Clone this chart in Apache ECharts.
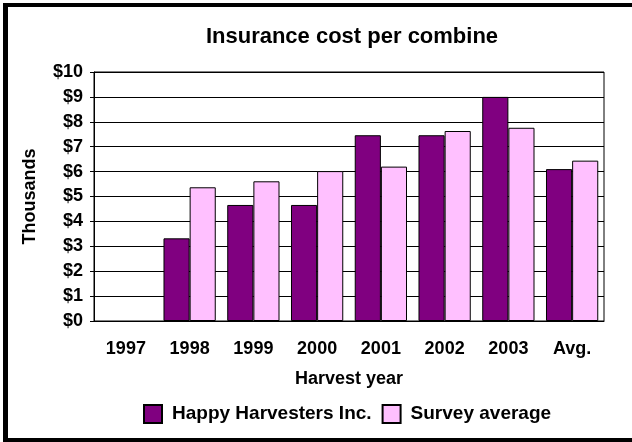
<!DOCTYPE html>
<html>
<head>
<meta charset="utf-8">
<script src="https://cdn.jsdelivr.net/npm/echarts@6/dist/echarts.min.js"></script>
<style>
  html, body { margin: 0; padding: 0; background: #fff; }
  #wrap { position: relative; width: 632px; height: 442px; overflow: hidden; }
  #frame {
    position: absolute; left: 3px; top: 3px; width: 640px; height: 431px;
    border-left: 5px solid #000; border-top: 4px solid #000; border-bottom: 4px solid #000;
    box-sizing: content-box;
  }
  #chart { position: absolute; left: 0; top: 0; width: 632px; height: 442px; }
</style>
</head>
<body>
<div id="wrap">
  <div id="frame"></div>
  <div id="chart"></div>
</div>
<script>
// harvest years on the x axis
const years = ['1997', '1998', '1999', '2000', '2001', '2002', '2003', 'Avg.'];
// insurance cost per combine, thousands of dollars (no 1997 figures)
const happyHarvesters = ['-', 3.32, 4.66, 4.66, 7.46, 7.46, 9.0, 6.1];
const surveyAverage = ['-', 5.37, 5.61, 6.02, 6.2, 7.63, 7.76, 6.44];

const FONT = '"Liberation Sans", Arial, sans-serif';

const chart = echarts.init(document.getElementById('chart'));

chart.setOption({
  animation: false,
  backgroundColor: 'transparent',
  textStyle: { fontFamily: FONT, color: '#000', fontWeight: 'bold' },
  title: {
    text: 'Insurance cost per combine',
    left: 347,
    top: 21,
    textAlign: 'center',
    textStyle: { fontFamily: FONT, fontSize: 22, fontWeight: 'bold', color: '#000' }
  },
  legend: {
    data: ['Happy Harvesters Inc.', 'Survey average'],
    left: 143,
    top: 404,
    itemWidth: 18,
    itemHeight: 18,
    itemGap: 10,
    icon: 'rect',
    padding: 0,
    textStyle: { fontFamily: FONT, fontSize: 19, fontWeight: 'bold', color: '#000', padding: [0, 0, 0, 5] }
  },
  grid: {
    left: 94, right: 28, top: 72, bottom: 121,
    show: true, borderColor: '#000', borderWidth: 1,
    containLabel: false
  },
  xAxis: {
    type: 'category',
    data: years,
    name: 'Harvest year',
    nameLocation: 'middle',
    nameGap: 49,
    nameTextStyle: { fontFamily: FONT, fontSize: 18, fontWeight: 'bold', color: '#000' },
    axisLine: { lineStyle: { color: '#000', width: 1 } },
    axisTick: { show: false },
    axisLabel: { fontFamily: FONT, fontSize: 18, fontWeight: 'bold', color: '#000', margin: 19 }
  },
  yAxis: {
    type: 'value',
    min: 0, max: 10, interval: 1,
    name: 'Thousands',
    nameLocation: 'middle',
    nameGap: 55,
    nameRotate: 90,
    nameTextStyle: { fontFamily: FONT, fontSize: 18, fontWeight: 'bold', color: '#000' },
    axisLine: { show: true, lineStyle: { color: '#000', width: 1 } },
    axisTick: { show: true, length: 4, lineStyle: { color: '#000' } },
    axisLabel: {
      fontFamily: FONT, fontSize: 18, fontWeight: 'bold', color: '#000', margin: 11,
      formatter: v => '$' + v
    },
    splitLine: { show: true, lineStyle: { color: '#000', width: 1 } }
  },
  series: [
    {
      name: 'Happy Harvesters Inc.',
      type: 'bar',
      data: happyHarvesters,
      barGap: '0%',
      barCategoryGap: '18%',
      itemStyle: { color: '#800080', borderColor: '#000', borderWidth: 1 }
    },
    {
      name: 'Survey average',
      type: 'bar',
      data: surveyAverage,
      itemStyle: { color: '#FFC0FF', borderColor: '#000', borderWidth: 1 }
    }
  ]
});
</script>
</body>
</html>
